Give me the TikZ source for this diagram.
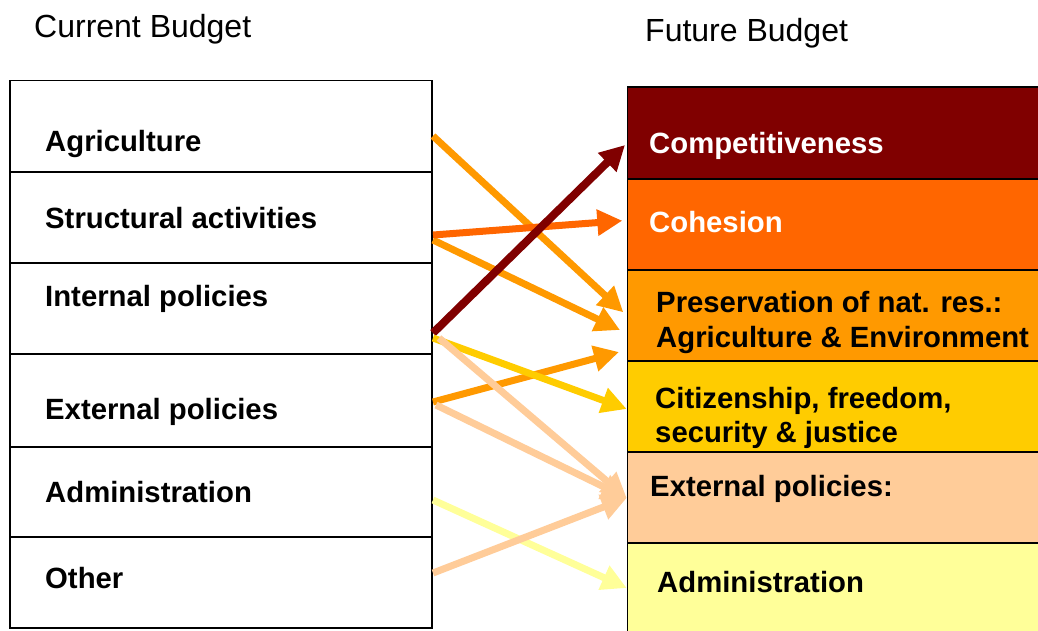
\documentclass[tikz,border=0pt]{standalone}
\usepackage{fontspec}
\setmainfont{Liberation Sans}
\usetikzlibrary{arrows.meta}
\definecolor{cDark}{HTML}{800000}
\definecolor{cOrR}{HTML}{FF6600}
\definecolor{cOr}{HTML}{FF9900}
\definecolor{cYel}{HTML}{FFCC00}
\definecolor{cPea}{HTML}{FFCC99}
\definecolor{cLYe}{HTML}{FFFF99}
\tikzset{
  lbox/.style={draw=black, line width=1.4pt, fill=white, minimum width=422pt, anchor=north west, inner sep=0pt, outer sep=0pt},
  rbox/.style={draw=black, line width=1.4pt, minimum width=430pt, anchor=north west, inner sep=0pt, outer sep=0pt},
  lbl/.style={anchor=base west, inner sep=0pt, font=\fontsize{29.3}{35}\selectfont\bfseries},
  ttl/.style={anchor=base west, inner sep=0pt, font=\fontsize{32}{38}\selectfont},
  flow/.style={line width=7pt, -{Triangle[length=25pt,width=25pt]}}
}
\begin{document}
\begin{tikzpicture}[x=1pt,y=-1pt]
\useasboundingbox (0,0) rectangle (1038,630);
\clip (0,0) rectangle (1038,630);
\fill[white] (0,0) rectangle (1038,630);

% titles
\node[ttl] (tcur) at (34,37) {Current Budget};
\node[ttl] (tfut) at (645,41) {Future Budget};

% left boxes
\node[lbox, minimum height=91.3pt] (agri) at (10,80.7) {};
\node[lbox, minimum height=91pt] (stru) at (10,172) {};
\node[lbox, minimum height=91pt] (inte) at (10,263) {};
\node[lbox, minimum height=93pt] (exte) at (10,354) {};
\node[lbox, minimum height=90pt] (admi) at (10,447) {};
\node[lbox, minimum height=91pt] (othe) at (10,537) {};

\node[lbl] (lagri) at (45,151) {Agriculture};
\node[lbl] (lstru) at (45,228) {Structural activities};
\node[lbl] (linte) at (45,306) {Internal policies};
\node[lbl] (lexte) at (45,419) {External policies};
\node[lbl] (ladmi) at (45,502) {Administration};
\node[lbl] (lothe) at (45,588) {Other};

% right boxes
\node[rbox, fill=cDark, minimum height=92pt] (comp) at (627.7,87) {};
\node[rbox, fill=cOrR, minimum height=91pt] (cohe) at (627.7,179) {};
\node[rbox, fill=cOr, minimum height=91pt] (pres) at (627.7,270) {};
\node[rbox, fill=cYel, minimum height=91pt] (citi) at (627.7,361) {};
\node[rbox, fill=cPea, minimum height=91pt] (rext) at (627.7,452) {};
\node[rbox, fill=cLYe, minimum height=100pt] (radm) at (627.7,543) {};

\node[lbl, text=white] (lcomp) at (649,153) {Competitiveness};
\node[lbl, text=white] (lcohe) at (649,232) {Cohesion};
\node[lbl] (lpres1) at (656,312) {Preservation of nat. res.:};
\node[lbl] (lpres2) at (656,347) {Agriculture \& Environment};
\node[lbl] (lciti1) at (655,408) {Citizenship, freedom,};
\node[lbl] (lciti2) at (655,442) {security \& justice};
\node[lbl] (lrext) at (650,496) {External policies:};
\node[lbl] (lradm) at (657,592) {Administration};

% connector end points
\coordinate (sA) at (433,136);
\coordinate (sS1) at (433,235);
\coordinate (sS2) at (433,240);
\coordinate (sI1) at (433,333);
\coordinate (sI2) at (433,338);
\coordinate (sI3) at (439,338);
\coordinate (sE1) at (433,402);
\coordinate (sE2) at (436,405);
\coordinate (sAd) at (433,500);
\coordinate (sO) at (433,573);

\coordinate (tComp) at (625,145);
\coordinate (tCohe) at (622.3,220.7);
\coordinate (tPres1) at (623.3,312.3);
\coordinate (tPres2) at (620,330);
\coordinate (tPres3) at (619,352);
\coordinate (tCiti) at (626.7,409);
\coordinate (tExt) at (626.7,498);
\coordinate (tAdm) at (626.7,588);

% arrows
\draw[flow, draw=cOr, fill=cOr] (sA) -- (tPres1);
\draw[flow, draw=cOr, fill=cOr] (sS2) -- (tPres2);
\draw[flow, draw=cOrR, fill=cOrR] (sS1) -- (tCohe);
\draw[flow, draw=cDark, fill=cDark, line width=8pt] (sI1) -- (tComp);
\draw[flow, draw=cOr, fill=cOr] (sE1) -- (tPres3);
\draw[flow, draw=cYel, fill=cYel] (sI2) -- (tCiti);
\draw[flow, draw=cLYe, fill=cLYe] (sAd) -- (tAdm);
\draw[flow, draw=cPea, fill=cPea] (sO) -- (tExt);
\draw[flow, draw=cPea, fill=cPea] (sE2) -- (tExt);
\draw[flow, draw=cPea, fill=cPea] (sI3) -- (tExt);
\end{tikzpicture}
\end{document}
